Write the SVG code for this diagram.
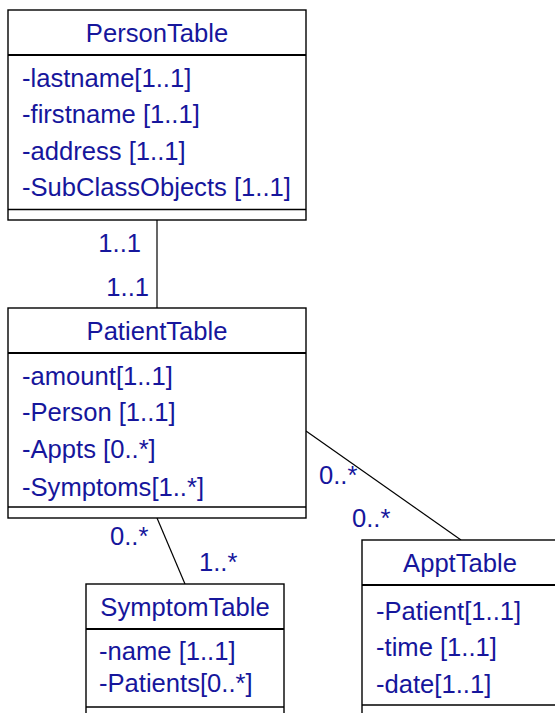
<svg xmlns="http://www.w3.org/2000/svg" width="555" height="713" viewBox="0 0 555 713">
<style>
.box{fill:#fff;stroke:#000;stroke-width:1.4}
.sep{stroke:#000;stroke-width:2.2}
.sep2{stroke:#000;stroke-width:1.4}
.conn{stroke:#000;stroke-width:1.2;fill:none}
text{font-family:"Liberation Sans",Arial,Helvetica,sans-serif;font-size:25.6px;fill:#16169c}
.t{text-anchor:middle}
</style>
<rect width="555" height="713" fill="#fff"/>
<g id="connectors">
<line class="conn" x1="157" y1="220" x2="157" y2="308"/>
<line class="conn" x1="306" y1="431" x2="461" y2="540"/>
<line class="conn" x1="157" y1="518" x2="185" y2="584"/>
</g>
<g id="labels">
<text x="141" y="252" text-anchor="end">1..1</text>
<text x="149" y="296" text-anchor="end">1..1</text>
<text x="319" y="484">0..*</text>
<text x="352" y="527">0..*</text>
<text x="110" y="545">0..*</text>
<text x="199" y="571">1..*</text>
</g>
<g id="PersonTable">
<rect class="box" x="8" y="10" width="298" height="210"/>
<line class="sep" x1="8" y1="55" x2="306" y2="55"/>
<line class="sep2" x1="8" y1="209.5" x2="306" y2="209.5"/>
<text class="t" x="157" y="42">PersonTable</text>
<text x="22" y="87">-lastname[1..1]</text>
<text x="22" y="123">-firstname [1..1]</text>
<text x="22" y="160">-address [1..1]</text>
<text x="22" y="196">-SubClassObjects [1..1]</text>
</g>
<g id="PatientTable">
<rect class="box" x="8" y="308" width="298" height="210"/>
<line class="sep" x1="8" y1="353" x2="306" y2="353"/>
<line class="sep2" x1="8" y1="507" x2="306" y2="507"/>
<text class="t" x="157" y="340">PatientTable</text>
<text x="22" y="385">-amount[1..1]</text>
<text x="22" y="421">-Person [1..1]</text>
<text x="22" y="458">-Appts [0..*]</text>
<text x="22" y="496">-Symptoms[1..*]</text>
</g>
<g id="SymptomTable">
<rect class="box" x="86" y="584" width="198" height="140"/>
<line class="sep" x1="86" y1="629" x2="284" y2="629"/>
<line class="sep2" x1="86" y1="707" x2="284" y2="707"/>
<text class="t" x="185" y="616">SymptomTable</text>
<text x="99" y="660">-name [1..1]</text>
<text x="99" y="692">-Patients[0..*]</text>
</g>
<g id="ApptTable">
<rect class="box" x="362" y="540" width="210" height="190"/>
<line class="sep" x1="362" y1="585" x2="572" y2="585"/>
<line class="sep2" x1="362" y1="705" x2="572" y2="705"/>
<text class="t" x="460" y="572">ApptTable</text>
<text x="376" y="620">-Patient[1..1]</text>
<text x="376" y="656">-time [1..1]</text>
<text x="376" y="693">-date[1..1]</text>
</g>
</svg>
